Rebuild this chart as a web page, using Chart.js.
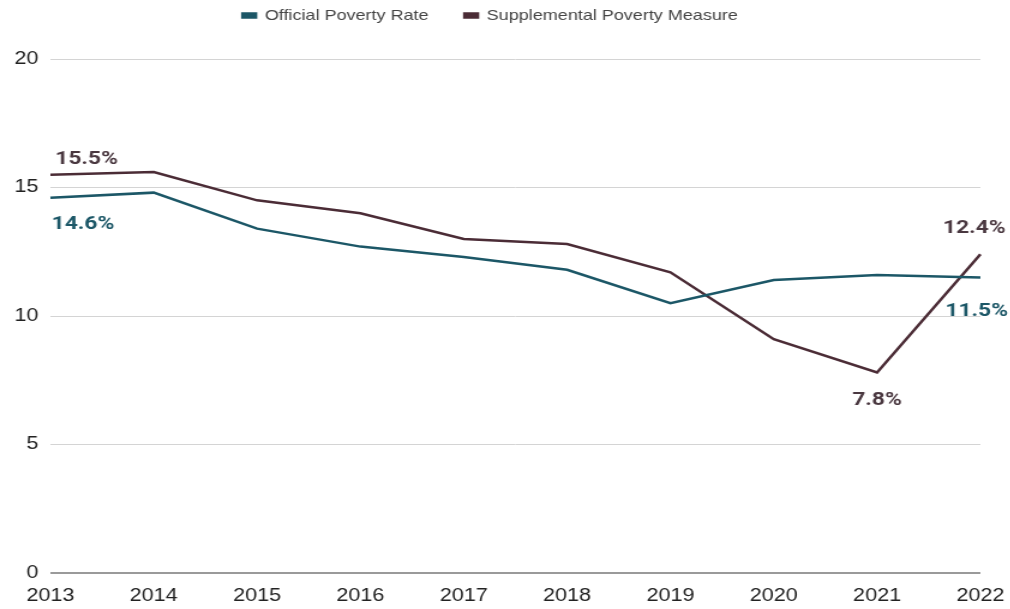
<!DOCTYPE html>
<html>
<head>
<meta charset="utf-8">
<script src="https://cdn.jsdelivr.net/npm/chart.js@4.4.1/dist/chart.umd.min.js"></script>
<style>
  html, body { margin: 0; padding: 0; background: #fff; overflow: hidden; }
  /* chart is laid out at 842px and widened to the 1010px frame */
  #wrap { width: 842px; height: 609px; transform: scaleX(1.2); transform-origin: 0 0; }
</style>
</head>
<body>
<div id="wrap"><canvas id="chart"></canvas></div>
<script>
// ── Poverty rates, 2013–2022 ─────────────────────────────────────────────────
const years        = ['2013', '2014', '2015', '2016', '2017', '2018', '2019', '2020', '2021', '2022'];
const officialRate = [14.6, 14.8, 13.4, 12.7, 12.3, 11.8, 10.5, 11.4, 11.6, 11.5];
const spmRate      = [15.5, 15.6, 14.5, 14.0, 13.0, 12.8, 11.7, 9.1, 7.8, 12.4];
const yTicks       = [0, 5, 10, 15, 20];

const TEAL   = '#1c5767';
const MAROON = '#4b2c36';

// value labels: [dataset index, point index, align, dx, dy]
const callouts = [
  [1, 0, 'left',    4, -15],
  [0, 0, 'left',    1,  26],
  [1, 9, 'right',  21, -26],
  [0, 9, 'right',  23,  34],
  [1, 8, 'center',  0,  28],
];

const calloutPlugin = {
  id: 'callouts',
  afterDatasetsDraw(chart) {
    const { ctx, scales: { x, y } } = chart;
    ctx.save();
    ctx.font = '700 19px Roboto, "Liberation Sans", sans-serif';
    ctx.textBaseline = 'middle';
    callouts.forEach(([ds, i, align, dx, dy]) => {
      const v = chart.data.datasets[ds].data[i];
      ctx.fillStyle = ds === 0 ? TEAL : '#4a3840';
      ctx.textAlign = align;
      ctx.fillText(v.toFixed(1) + '%', x.getPixelForValue(i) + dx, y.getPixelForValue(v) + dy);
    });
    ctx.restore();
  }
};

// legend sits near the top edge, with a gap before the plot
const legendGap = {
  id: 'legendGap',
  beforeInit(chart) {
    const fit = chart.legend.fit;
    chart.legend.fit = function () {
      fit.call(this);
      this.height += 4;
    };
  },
  afterLayout(chart) {
    chart.legend.top -= 22;
    chart.legend.bottom -= 22;
  }
};

new Chart(document.getElementById('chart'), {
  type: 'line',
  data: {
    labels: years,
    datasets: [
      { label: 'Official Poverty Rate', data: officialRate, borderColor: TEAL, backgroundColor: TEAL },
      { label: 'Supplemental Poverty Measure', data: spmRate, borderColor: MAROON, backgroundColor: MAROON },
    ]
  },
  options: {
    responsive: true,
    maintainAspectRatio: false,
    animation: false,
    layout: { padding: { left: 0, right: 25, top: 0, bottom: 0 } },
    elements: {
      line: { borderWidth: 2.5, tension: 0 },
      point: { radius: 0 }
    },
    plugins: {
      tooltip: { enabled: false },
      legend: {
        position: 'top',
        labels: {
          boxWidth: 11,
          boxHeight: 4,
          padding: 30,
          color: '#444',
          font: { family: '"Liberation Sans", Arial, sans-serif', size: 15 }
        }
      }
    },
    scales: {
      x: {
        offset: false,
        grid: { display: false, drawTicks: false },
        border: { display: false },
        afterFit: s => { s.height = 36; s.paddingLeft = 0; s.paddingRight = 0; },
        ticks: {
          padding: 12,
          maxRotation: 0,
          color: '#222',
          font: { family: '"Liberation Sans", Arial, sans-serif', size: 18 }
        }
      },
      y: {
        min: 0,
        max: 20,
        afterBuildTicks: s => { s.ticks = yTicks.map(v => ({ value: v })); },
        afterFit: s => { s.width = 42; },
        grid: {
          drawTicks: false,
          color: ctx => ctx.tick.value === 0 ? '#9a9a9a' : '#d4d4d4',
          lineWidth: ctx => ctx.tick.value === 0 ? 2 : 1
        },
        border: { display: false },
        ticks: {
          padding: 10,
          color: '#222',
          font: { family: '"Liberation Sans", Arial, sans-serif', size: 18 }
        }
      }
    }
  },
  plugins: [calloutPlugin, legendGap]
});
</script>
</body>
</html>
